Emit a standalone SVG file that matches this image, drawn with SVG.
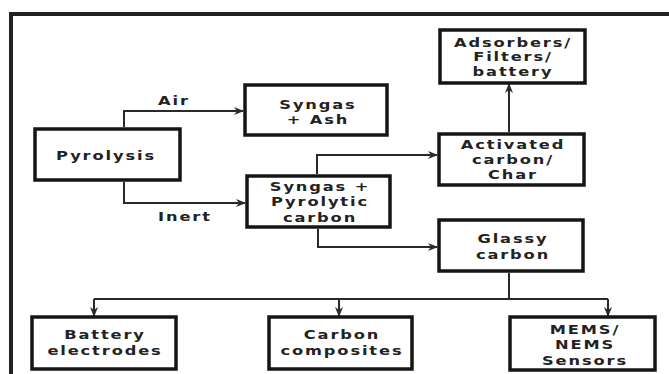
<svg xmlns="http://www.w3.org/2000/svg" width="669" height="374" viewBox="0 0 669 374">
<defs>
<style>
.box{fill:#fff;stroke:#151515;stroke-width:3.5}
.t{font-family:"DejaVu Sans",sans-serif;font-weight:bold;font-size:13px;letter-spacing:1.5px;fill:#222;text-anchor:middle}
.c{fill:none;stroke:#2a2a2a;stroke-width:2}
.a{marker-end:url(#ah)}
</style>
<marker id="ah" viewBox="0 0 10 10" refX="9" refY="5" markerWidth="10" markerHeight="10" markerUnits="userSpaceOnUse" orient="auto">
<path d="M0,1 L10,5 L0,9 L3,5 z" fill="#2a2a2a"/>
</marker>
</defs>
<rect width="669" height="374" fill="#fff"/>
<path d="M11,374 V14 H669" fill="none" stroke="#222" stroke-width="4"/>
<g id="connectors">
<path class="c a" d="M124,127 V111 H243"/>
<path class="c a" d="M124,182 V203 H245"/>
<path class="c a" d="M317,174 V155 H437"/>
<path class="c a" d="M509,132 V84"/>
<path class="c a" d="M318,229 V247 H437"/>
<path class="c" d="M509,273 V299 M94,299 H608"/>
<path class="c a" d="M94,299 V316"/>
<path class="c a" d="M339,299 V316"/>
<path class="c a" d="M608,299 V316"/>
<text class="t" transform="scale(1.25,1)" x="139.2" y="105">Air</text>
<text class="t" transform="scale(1.25,1)" x="148" y="221">Inert</text>
</g>
<g id="pyrolysis"><rect class="box" x="35" y="129" width="145" height="51"/><text class="t" transform="scale(1.25,1)" x="84.8" y="160">Pyrolysis</text></g>
<g id="syngas-ash"><rect class="box" x="245" y="85" width="142" height="50"/><text class="t" transform="scale(1.25,1)" x="254.4" y="109">Syngas</text><text class="t" transform="scale(1.25,1)" x="254.4" y="124">+ Ash</text></g>
<g id="syngas-pyro"><rect class="box" x="247" y="176" width="143" height="51"/><text class="t" transform="scale(1.25,1)" x="256" y="191">Syngas +</text><text class="t" transform="scale(1.25,1)" x="256" y="206">Pyrolytic</text><text class="t" transform="scale(1.25,1)" x="256" y="222">carbon</text></g>
<g id="adsorbers"><rect class="box" x="440" y="30" width="145" height="53"/><text class="t" transform="scale(1.25,1)" x="410.4" y="47">Adsorbers/</text><text class="t" transform="scale(1.25,1)" x="410.4" y="61">Filters/</text><text class="t" transform="scale(1.25,1)" x="410.4" y="76">battery</text></g>
<g id="activated"><rect class="box" x="439" y="134" width="145" height="51"/><text class="t" transform="scale(1.25,1)" x="410.4" y="149">Activated</text><text class="t" transform="scale(1.25,1)" x="410.4" y="164">carbon/</text><text class="t" transform="scale(1.25,1)" x="410.4" y="179">Char</text></g>
<g id="glassy"><rect class="box" x="439" y="220" width="144" height="51"/><text class="t" transform="scale(1.25,1)" x="410.4" y="243">Glassy</text><text class="t" transform="scale(1.25,1)" x="410.4" y="259">carbon</text></g>
<g id="battery"><rect class="box" x="32" y="317" width="144" height="52"/><text class="t" transform="scale(1.25,1)" x="84" y="339">Battery</text><text class="t" transform="scale(1.25,1)" x="84" y="355">electrodes</text></g>
<g id="composites"><rect class="box" x="269" y="317" width="143" height="52"/><text class="t" transform="scale(1.25,1)" x="273.6" y="339">Carbon</text><text class="t" transform="scale(1.25,1)" x="273.6" y="355">composites</text></g>
<g id="mems"><rect class="box" x="510" y="317" width="145" height="53"/><text class="t" transform="scale(1.25,1)" x="468" y="334">MEMS/</text><text class="t" transform="scale(1.25,1)" x="468" y="349">NEMS</text><text class="t" transform="scale(1.25,1)" x="468" y="365">Sensors</text></g>
</svg>
